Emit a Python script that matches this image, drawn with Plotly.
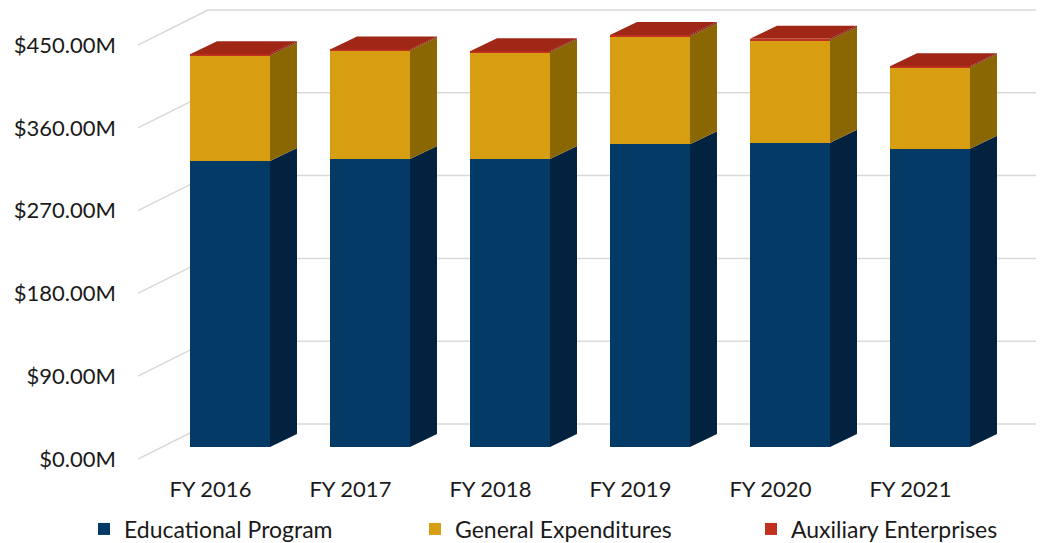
import plotly.graph_objects as go

# data (values in $M)
years = ["FY 2016", "FY 2017", "FY 2018", "FY 2019", "FY 2020", "FY 2021"]
educational = [312.6, 314.8, 314.8, 331.0, 332.6, 326.0]
general = [115.3, 118.4, 116.6, 118.0, 112.2, 89.0]
auxiliary = [1.2, 1.3, 1.1, 1.4, 1.3, 1.2]
y_ticks = [0, 90, 180, 270, 360, 450]

series = [
    ("Educational Program", educational, "#033A66", "#022240"),
    ("General Expenditures", general, "#D69E10", "#8A6703"),
    ("Auxiliary Enterprises", auxiliary, "#C0311F", "#7E1E10"),
]
TOP_COLOR = "#A02716"

# page geometry (pixels, measured on the page; the html body adds an 8px margin)
OFF = 8
W, H = 1044 - OFF, 543 - OFF
PLOT_LEFT, PLOT_TOP, PLOT_BOTTOM = 138, OFF, 470
L, R, T, B = PLOT_LEFT - OFF, 0, PLOT_TOP - OFF, H - (PLOT_BOTTOM - OFF)
PLOT_W, PLOT_H = W - L - R, H - T - B
X0_PX, STEP_PX = 230 - PLOT_LEFT, 140      # first category centre, spacing (inside plot)
BAR_W = 80 / 140
FRONT_ZERO, FRONT_K = 447 - PLOT_TOP, 0.915   # bar front face: zero pixel, px per $M
LABEL_ZERO, LABEL_K = 459 - PLOT_TOP, 0.92    # axis labels / front floor edge
DEPTH_DX, DEPTH_DY = 27, 13                   # bar depth offset
WALL_DX, WALL_DY = 70, 35                     # floor depth to back wall
LEGEND_PX = [84, 415, 751]                    # left edge of each legend box (page px)
LEGEND_Y = 529


def px_to_x(px):
    return (px - X0_PX) / STEP_PX


x_range = [px_to_x(0), px_to_x(PLOT_W)]
y_range = [(FRONT_ZERO - PLOT_H) / FRONT_K, FRONT_ZERO / FRONT_K]
y2_range = [(LABEL_ZERO - PLOT_H) / LABEL_K, LABEL_ZERO / LABEL_K]
ddx = DEPTH_DX / STEP_PX
ddy = DEPTH_DY / FRONT_K

xs = list(range(len(years)))
fig = go.Figure()

# front faces
legend_ids = ["legend", "legend2", "legend3"]
for (name, vals, front, side), lg in zip(series, legend_ids):
    fig.add_trace(go.Bar(
        x=xs, y=vals, name=name, width=BAR_W, marker=dict(color=front, line=dict(width=0)),
        hoverinfo="skip", legend=lg,
    ))

# side faces + top face, derived from stacked values
tops = [0.0] * len(years)
for name, vals, front, side in series:
    px, py = [], []
    for i, v in enumerate(vals):
        y0, y1 = tops[i], tops[i] + v
        xr = i + BAR_W / 2
        px += [xr, xr + ddx, xr + ddx, xr, xr, None]
        py += [y0, y0 + ddy, y1 + ddy, y1, y0, None]
        tops[i] = y1
    fig.add_trace(go.Scatter(x=px, y=py, fill="toself", fillcolor=side, mode="lines",
                             line=dict(width=0, color=side), showlegend=False, hoverinfo="skip"))

tx, ty = [], []
for i, top in enumerate(tops):
    xl, xr = i - BAR_W / 2, i + BAR_W / 2
    tx += [xl, xr, xr + ddx, xl + ddx, xl, None]
    ty += [top, top, top + ddy, top + ddy, top, None]
fig.add_trace(go.Scatter(x=tx, y=ty, fill="toself", fillcolor=TOP_COLOR, mode="lines",
                         line=dict(width=0, color=TOP_COLOR), showlegend=False, hoverinfo="skip"))

# invisible trace to carry the label axis
fig.add_trace(go.Scatter(x=[None], y=[None], yaxis="y2", showlegend=False, hoverinfo="skip"))

# 3D-looking gridlines: floor diagonal + back wall line
wall_dy = WALL_DY / LABEL_K
for v in y_ticks:
    xa, xb, xc = px_to_x(0), px_to_x(WALL_DX), px_to_x(PLOT_W - 4)
    fig.add_shape(type="line", xref="x", yref="y2", x0=xa, y0=v, x1=xb, y1=v + wall_dy,
                  line=dict(color="#D9D9D9", width=1.5), layer="below")
    fig.add_shape(type="line", xref="x", yref="y2", x0=xb, y0=v + wall_dy, x1=xc, y1=v + wall_dy,
                  line=dict(color="#D9D9D9", width=1.5), layer="below")

font = dict(family="Lato, 'Open Sans', sans-serif", size=22, color="#1A1A1A")
legend_font = dict(family="Lato, 'Open Sans', sans-serif", size=23, color="#1A1A1A")
legends = {}
for lg, lpx in zip(legend_ids, LEGEND_PX):
    legends[lg] = dict(orientation="h", x=(lpx - PLOT_LEFT) / PLOT_W, xanchor="left",
                       y=-(LEGEND_Y - PLOT_BOTTOM) / PLOT_H, yanchor="middle", font=legend_font,
                       itemclick=False, bgcolor="rgba(0,0,0,0)", tracegroupgap=0)

fig.update_layout(
    width=W, height=H,
    margin=dict(l=L, r=R, t=T, b=B, autoexpand=False),
    paper_bgcolor="white", plot_bgcolor="white",
    barmode="stack", bargap=0,
    font=font,
    showlegend=True,
    xaxis=dict(range=x_range, tickmode="array", tickvals=[i - 0.14 for i in xs], ticktext=years,
               showgrid=False, zeroline=False, showline=False, ticks="", ticklabelstandoff=4),
    yaxis=dict(range=y_range, showgrid=False, zeroline=False, showline=False, showticklabels=False),
    yaxis2=dict(range=y2_range, overlaying="y", side="left", tickmode="array", tickvals=y_ticks,
                ticktext=[f"${v:.2f}M" for v in y_ticks], showgrid=False, zeroline=False,
                showline=False, ticks="", ticklabelstandoff=21),
    **legends,
)

fig.write_html("out.html")
